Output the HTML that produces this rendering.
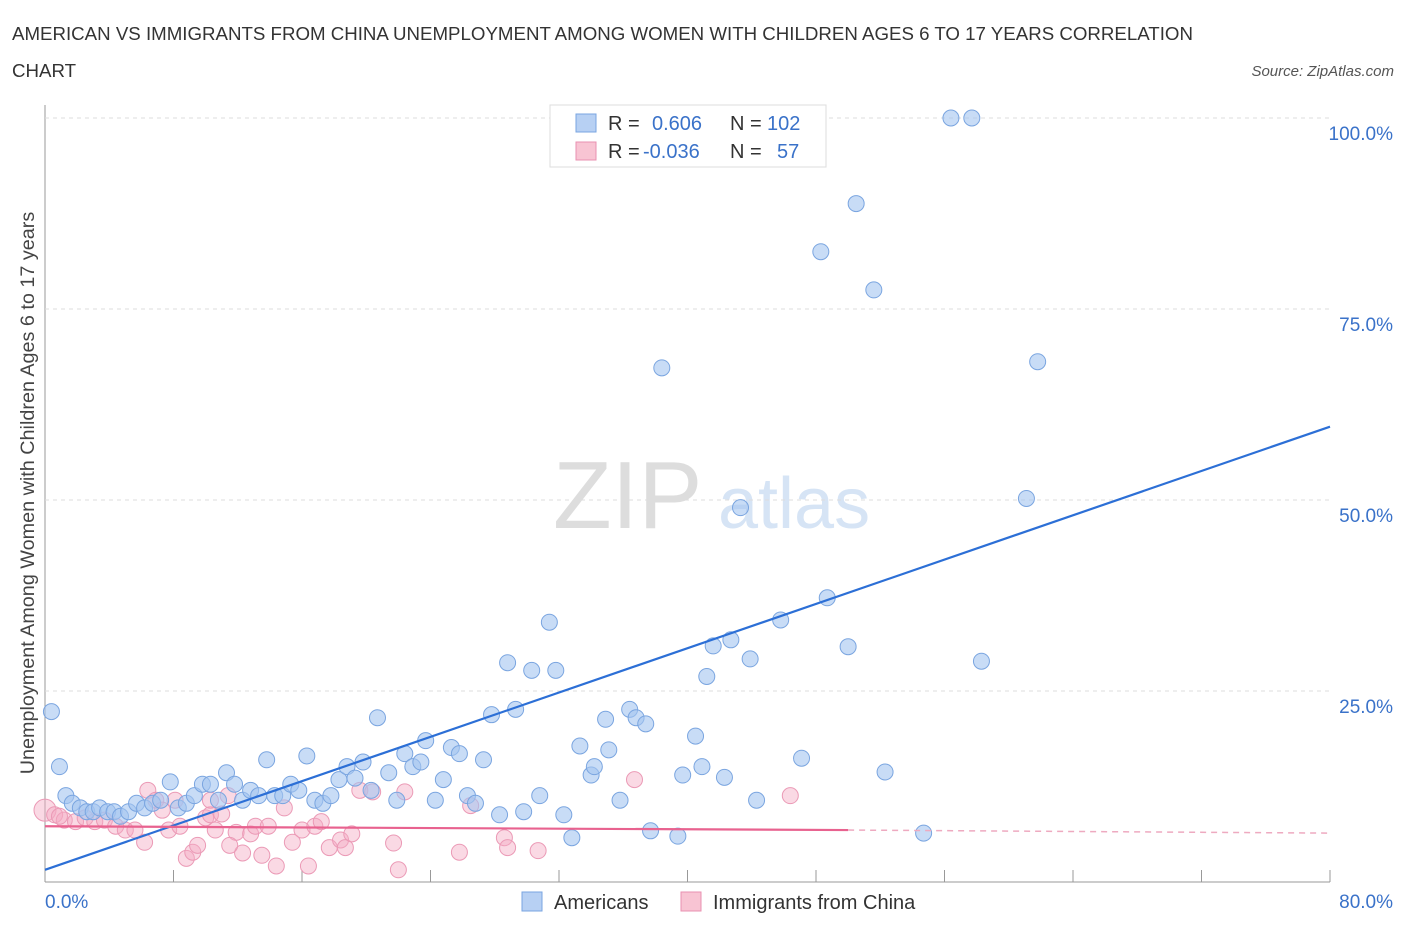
<!DOCTYPE html>
<html><head><meta charset="utf-8">
<style>
body{margin:0;background:#fff;font-family:"Liberation Sans",sans-serif;}
svg text{font-family:"Liberation Sans",sans-serif;}
</style></head>
<body>
<svg id="chart" width="1406" height="930" xmlns="http://www.w3.org/2000/svg">
<text x="12" y="40" font-size="18.7" fill="#333">AMERICAN VS IMMIGRANTS FROM CHINA UNEMPLOYMENT AMONG WOMEN WITH CHILDREN AGES 6 TO 17 YEARS CORRELATION</text>
<text x="12" y="77" font-size="18.7" fill="#333">CHART</text>
<text x="1394" y="76" font-size="15" fill="#555" text-anchor="end" font-style="italic">Source: ZipAtlas.com</text>
<text x="553" y="528" font-size="96" fill="#ddd" font-family="Liberation Serif">ZIP</text>
<text x="718" y="528" font-size="72" fill="#d6e4f5">atlas</text>
<text transform="translate(34,493) rotate(-90)" font-size="19.8" fill="#444" text-anchor="middle">Unemployment Among Women with Children Ages 6 to 17 years</text>
<g id="grid"></g>
<g id="pts"></g>
<g id="lines"></g>
<g>
<rect x="550" y="105" width="276" height="62" fill="#fff" stroke="#ddd"/>
<rect x="576" y="114" width="20" height="18" fill="#b7d0f3" stroke="#7aa5e0"/>
<rect x="576" y="142" width="20" height="18" fill="#f8c4d3" stroke="#e990b0"/>
<text x="608" y="130" font-size="20" fill="#333">R = </text><text x="652" y="130" font-size="20" fill="#3a72c9">0.606</text>
<text x="730" y="130" font-size="20" fill="#333">N = </text><text x="767" y="130" font-size="20" fill="#3a72c9">102</text>
<text x="608" y="158" font-size="20" fill="#333">R = </text><text x="643" y="158" font-size="20" fill="#3a72c9">-0.036</text>
<text x="730" y="158" font-size="20" fill="#333">N = </text><text x="777" y="158" font-size="20" fill="#3a72c9">57</text>
</g>
<g>
<rect x="522" y="892" width="20" height="19" fill="#b7d0f3" stroke="#7aa5e0"/>
<text x="554" y="909" font-size="20" fill="#333">Americans</text>
<rect x="681" y="892" width="20" height="19" fill="#f8c4d3" stroke="#e990b0"/>
<text x="713" y="909" font-size="20" fill="#333">Immigrants from China</text>
</g>
</svg>
<script>
const xTicks=[0,8,16,24,32,40,48,56,64,72,80];
const yTicks=[25,50,75,100];
const yTickLabels=["25.0%","50.0%","75.0%","100.0%"];
const blueX=[0.4,0.9,1.3,1.7,2.2,2.6,3.0,3.4,3.9,4.3,4.7,5.2,5.7,6.2,6.7,7.2,7.8,8.3,8.8,9.3,9.8,10.3,10.8,11.3,11.8,12.3,12.8,13.3,13.8,14.3,14.8,15.3,15.8,16.3,16.8,17.3,17.8,18.3,18.8,19.3,19.8,20.3,20.7,21.4,21.9,22.4,22.9,23.4,23.7,24.3,24.8,25.3,25.8,26.3,26.8,27.3,27.8,28.3,28.8,29.3,29.8,30.3,30.8,31.4,31.8,32.3,32.8,33.3,34.0,34.2,34.9,35.1,35.8,36.4,36.8,37.4,37.7,38.4,39.4,39.7,40.5,40.9,41.2,41.6,42.3,42.7,43.3,43.9,44.3,45.8,47.1,48.3,48.7,50.0,50.5,51.6,52.3,54.7,56.4,57.7,58.3,61.1,61.8];
const blueY=[22.3,15.1,11.3,10.3,9.7,9.2,9.2,9.7,9.2,9.2,8.6,9.2,10.3,9.7,10.3,10.7,13.1,9.7,10.3,11.3,12.8,12.8,10.7,14.3,12.8,10.7,12.0,11.3,16.0,11.3,11.3,12.8,12.0,16.5,10.7,10.3,11.3,13.4,15.1,13.6,15.7,12.0,21.5,14.3,10.7,16.8,15.1,15.7,18.5,10.7,13.4,17.6,16.8,11.3,10.3,16.0,21.9,8.8,28.7,22.6,9.2,27.7,11.3,34.0,27.7,8.8,5.8,17.8,14.0,15.1,21.3,17.3,10.7,22.6,21.5,20.7,6.7,67.3,6.0,14.0,19.1,15.1,26.9,30.9,13.7,31.7,49.0,29.2,10.7,34.3,16.2,82.5,37.2,30.8,88.8,77.5,14.4,6.4,100,100,28.9,50.2,68.1];
const pinkX=[0,0.6,1.2,1.9,2.5,3.1,3.7,4.4,5.0,5.6,6.2,6.4,6.9,7.3,7.7,8.1,8.4,8.8,9.2,9.5,10.0,10.3,10.6,11.0,11.4,11.9,12.3,12.8,13.1,13.5,13.9,14.4,14.9,15.4,16.0,16.4,16.8,17.2,17.7,18.4,18.7,19.1,19.6,20.4,21.7,22.0,22.4,25.8,26.5,28.6,28.8,30.7,36.7,46.4,10.3,11.5,0.9];
const pinkY=[9.4,8.8,8.1,7.9,8.4,7.9,8.1,7.3,6.8,6.8,5.2,12.0,10.7,9.4,6.8,10.7,7.3,3.1,3.9,4.8,8.4,8.8,6.8,8.9,11.3,6.5,3.8,6.3,7.3,3.5,7.3,2.1,9.7,5.2,6.8,2.1,7.3,7.9,4.5,5.5,4.5,6.3,12.0,11.8,5.1,1.6,11.8,3.9,10.0,5.8,4.5,4.1,13.4,11.3,10.7,4.8,8.6];
const blueLine=[1.6,59.6];
const pinkLine=[7.3,6.8,6.4];
const X0=45,X1=1330,Y0=882,Y100=118;
const xs=v=>X0+(X1-X0)*v/80, ys=v=>Y0-(Y0-Y100)*v/100;
const NS="http://www.w3.org/2000/svg";
function mk(t,a,p){const e=document.createElementNS(NS,t);for(const k in a)e.setAttribute(k,a[k]);p.appendChild(e);return e;}
const g=document.getElementById('grid');
const ax=mk('line',{x1:X0,y1:105,x2:X0,y2:Y0,stroke:'#999'},g);


const bx=mk('line',{x1:X0,y1:Y0,x2:X1,y2:Y0,stroke:'#999'},g);


yTicks.forEach((t,i)=>{
 const l=mk('line',{x1:X0,y1:ys(t),x2:X1,y2:ys(t),stroke:'#ddd','stroke-dasharray':'4,4'},g);
 
 
 const tx=mk('text',{x:1393,y:ys(t)+22,'font-size':19,fill:'#3a72c9','text-anchor':'end'},g);
 tx.textContent=yTickLabels[i];
 
 
});
xTicks.forEach(t=>{
 const l=mk('line',{x1:xs(t),y1:Y0,x2:xs(t),y2:Y0-12,stroke:'#999'},g);
 
 
});
const xl0=mk('text',{x:45,y:908,'font-size':19,fill:'#3a72c9'},g);xl0.textContent='0.0%';


const xl1=mk('text',{x:1393,y:908,'font-size':19,fill:'#3a72c9','text-anchor':'end'},g);xl1.textContent='80.0%';


const p=document.getElementById('pts');
pinkX.forEach((v,i)=>{
 const c=mk('circle',{cx:xs(v),cy:ys(pinkY[i]),r:i==0?11:8,fill:'rgba(244,170,195,0.45)',stroke:'#eb9ab6','stroke-width':1},p);
 
 
});
blueX.forEach((v,i)=>{
 const c=mk('circle',{cx:xs(v),cy:ys(blueY[i]),r:8,fill:'rgba(164,196,240,0.6)',stroke:'#7aa5e0','stroke-width':1},p);
 
 
});
const L=document.getElementById('lines');
const b=mk('line',{x1:xs(0),y1:ys(blueLine[0]),x2:xs(80),y2:ys(blueLine[1]),stroke:'#2c6fd6','stroke-width':2.2},L);


const pk=mk('line',{x1:xs(0),y1:ys(pinkLine[0]),x2:xs(50),y2:ys(pinkLine[1]),stroke:'#e8628f','stroke-width':2.2},L);


const pd=mk('line',{x1:xs(50),y1:ys(pinkLine[1]),x2:xs(80),y2:ys(pinkLine[2]),stroke:'#eeaac0','stroke-width':1.5,'stroke-dasharray':'6,5'},L);


</script>
</body></html>
